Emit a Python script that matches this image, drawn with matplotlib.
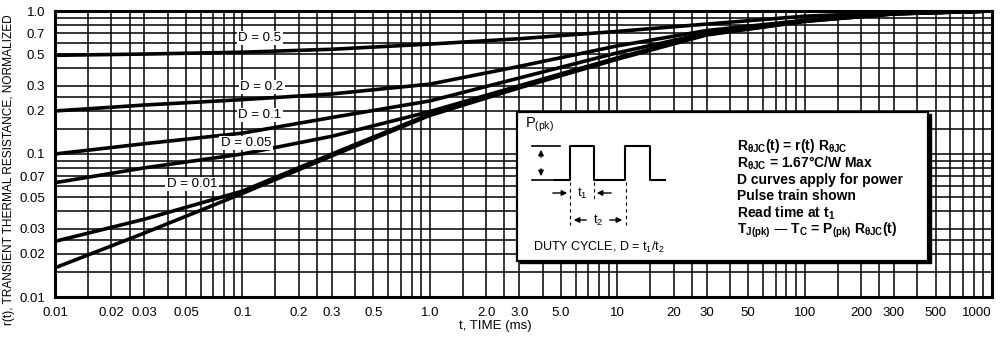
import matplotlib
matplotlib.use("Agg")
import matplotlib.pyplot as plt
from matplotlib.patches import Rectangle
from matplotlib.ticker import FixedLocator, NullFormatter

plt.rcParams["font.family"] = ["Liberation Sans", "DejaVu Sans"]
plt.rcParams["mathtext.default"] = "regular"

# pulse time (ms) at which the curves were read
t_ms = [0.01, 0.03, 0.1, 0.3, 1.0, 3.0, 10, 30, 100, 300, 1000]

# r(t) for each duty cycle
r_d050 = [0.49, 0.50, 0.515, 0.54, 0.587, 0.64, 0.72, 0.81, 0.92, 0.975, 1.0]
r_d020 = [0.20, 0.22, 0.24, 0.263, 0.308, 0.41, 0.57, 0.73, 0.86, 0.96, 1.0]
r_d010 = [0.10, 0.118, 0.14, 0.18, 0.235, 0.34, 0.51, 0.70, 0.855, 0.96, 1.0]
r_d005 = [0.063, 0.08, 0.10, 0.133, 0.198, 0.30, 0.47, 0.69, 0.85, 0.955, 1.0]
r_d001 = [0.0245, 0.035, 0.055, 0.10, 0.19, 0.295, 0.465, 0.685, 0.85, 0.955, 1.0]
r_single = [0.016, 0.028, 0.053, 0.097, 0.186, 0.29, 0.46, 0.68, 0.845, 0.955, 1.0]

curves = [r_d050, r_d020, r_d010, r_d005, r_d001, r_single]

x_ticks = [0.01, 0.02, 0.03, 0.05, 0.1, 0.2, 0.3, 0.5, 1.0, 2.0, 3.0, 5.0,
           10, 20, 30, 50, 100, 200, 300, 500, 1000]
x_tick_labels = ["0.01", "0.02", "0.03", "0.05", "0.1", "0.2", "0.3", "0.5",
                 "1.0", "2.0", "3.0", "5.0", "10", "20", "30", "50", "100",
                 "200", "300", "500", "1000"]
y_ticks = [0.01, 0.02, 0.03, 0.05, 0.07, 0.1, 0.2, 0.3, 0.5, 0.7, 1.0]
y_tick_labels = ["0.01", "0.02", "0.03", "0.05", "0.07", "0.1", "0.2", "0.3",
                 "0.5", "0.7", "1.0"]

d_labels = ["D = 0.5", "D = 0.2", "D = 0.1", "D = 0.05", "D = 0.01"]
d_label_px = [(260, 38), (262, 87), (260, 115), (246, 143), (192, 184)]

info_lines = [
    r"R$_{\theta JC}$(t) = r(t) R$_{\theta JC}$",
    r"R$_{\theta JC}$ = 1.67°C/W Max",
    "D curves apply for power",
    "Pulse train shown",
    r"Read time at t$_1$",
    r"T$_{J(pk)}$ — T$_C$ = P$_{(pk)}$ R$_{\theta JC}$(t)",
]

# plot frame in pixels of the 1004x343 figure
X0, X1, Y0, Y1 = 55, 992, 11, 297


def fx(px):
    return (px - X0) / (X1 - X0)


def fy(py):
    return (Y1 - py) / (Y1 - Y0)


fig = plt.figure(figsize=(10.04, 3.43), dpi=100)
ax = fig.add_axes([X0 / 1004, 1 - Y1 / 343, (X1 - X0) / 1004, (Y1 - Y0) / 343])
ax.set_xscale("log")
ax.set_yscale("log")
ax.set_xlim(0.01, 1000)
ax.set_ylim(0.01, 1.0)

# dense chart-paper grid
steps = [1, 1.5, 2, 2.5, 3, 4, 5, 6, 7, 8, 9]
grid_x = [s * 10.0 ** e for e in range(-2, 3) for s in steps] + [1000]
grid_y = [s * 10.0 ** e for e in range(-2, 0) for s in steps] + [1.0]
for gx in grid_x:
    ax.axvline(gx, color="black", lw=1.1, zorder=1)
for gy in grid_y:
    ax.axhline(gy, color="black", lw=1.1, zorder=1)

for r in curves:
    ax.plot(t_ms, r, color="black", lw=2.6, solid_capstyle="butt", zorder=3)

ax.xaxis.set_major_locator(FixedLocator(x_ticks))
ax.set_xticklabels(x_tick_labels)
ax.xaxis.set_minor_formatter(NullFormatter())
ax.yaxis.set_major_locator(FixedLocator(y_ticks))
ax.set_yticklabels(y_tick_labels)
ax.yaxis.set_minor_formatter(NullFormatter())
ax.tick_params(which="both", length=0, labelsize=9.5, pad=7)
ax.get_xticklabels()[-1].set_horizontalalignment("right")
for sp in ax.spines.values():
    sp.set_linewidth(2.2)

fig.text(495 / 1004, 1 - 326 / 343, "t, TIME (ms)", fontsize=9.5,
         ha="center", va="center")
fig.text(9 / 1004, 1 - 170 / 343,
         "r(t), TRANSIENT THERMAL RESISTANCE, NORMALIZED", fontsize=8.6,
         rotation=90, ha="center", va="center")

for lab, (px, py) in zip(d_labels, d_label_px):
    ax.text(fx(px), fy(py), lab, transform=ax.transAxes, fontsize=9.5,
            ha="center", va="center", zorder=5,
            bbox=dict(facecolor="white", edgecolor="none", pad=1.0))

# inset box with drop shadow
tr = ax.transAxes
bx0, bx1, by0, by1 = fx(517), fx(928), fy(261), fy(112)
ax.add_patch(Rectangle((bx0 + 0.003, by0 - 0.008), bx1 - bx0, by1 - by0,
                       transform=tr, facecolor="black", edgecolor="black",
                       zorder=6))
ax.add_patch(Rectangle((bx0, by0), bx1 - bx0, by1 - by0, transform=tr,
                       facecolor="white", edgecolor="black", lw=1.6, zorder=7))

wave_x = [fx(p) for p in [555, 570, 570, 594, 594, 625, 625, 650, 650, 665]]
wave_y = [fy(p) for p in [180, 180, 146, 146, 180, 180, 146, 146, 180, 180]]
ax.plot(wave_x, wave_y, color="black", lw=1.5, transform=tr, zorder=8)
ax.plot([fx(532), fx(560)], [fy(146), fy(146)], color="black", lw=1.2,
        transform=tr, zorder=8)
ax.plot([fx(532), fx(555)], [fy(180), fy(180)], color="black", lw=1.2,
        transform=tr, zorder=8)

arrow = dict(arrowstyle="-|>", color="black", lw=1.0, mutation_scale=8)
ax.annotate("", xy=(fx(541), fy(147)), xytext=(fx(541), fy(160)),
            xycoords=tr, arrowprops=arrow, zorder=8)
ax.annotate("", xy=(fx(541), fy(179)), xytext=(fx(541), fy(166)),
            xycoords=tr, arrowprops=arrow, zorder=8)
for vx, vy_end in [(570, 225), (594, 200), (626, 225)]:
    ax.plot([fx(vx), fx(vx)], [fy(182), fy(vy_end)], color="black", lw=0.8,
            ls=(0, (3, 3)), transform=tr, zorder=8)
ax.annotate("", xy=(fx(570), fy(193)), xytext=(fx(550), fy(193)),
            xycoords=tr, arrowprops=arrow, zorder=8)
ax.annotate("", xy=(fx(594), fy(193)), xytext=(fx(614), fy(193)),
            xycoords=tr, arrowprops=arrow, zorder=8)
ax.text(fx(582), fy(193), r"t$_1$", transform=tr, fontsize=9.5, ha="center",
        va="center", zorder=9)
ax.annotate("", xy=(fx(571), fy(220)), xytext=(fx(589), fy(220)),
            xycoords=tr, arrowprops=arrow, zorder=8)
ax.annotate("", xy=(fx(625), fy(220)), xytext=(fx(607), fy(220)),
            xycoords=tr, arrowprops=arrow, zorder=8)
ax.text(fx(598), fy(220), r"t$_2$", transform=tr, fontsize=9.5, ha="center",
        va="center", zorder=9)
ax.text(fx(525), fy(125), r"P$_{(pk)}$", transform=tr, fontsize=10.5,
        ha="left", va="center", zorder=9)
ax.text(fx(533), fy(247), r"DUTY CYCLE, D = t$_1$/t$_2$", transform=tr,
        fontsize=9, ha="left", va="center", zorder=9)

for i, line in enumerate(info_lines):
    ax.text(fx(737), fy(146 + i * 16.8), line, transform=tr, fontsize=10,
            fontweight="bold", ha="left", va="center", zorder=9)

fig.savefig("out.png", dpi=100)
